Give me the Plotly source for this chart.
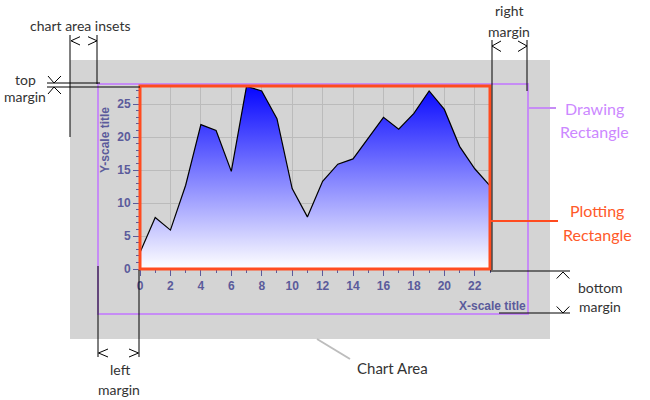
import plotly.graph_objects as go

# ---- data ----
hours = list(range(24))
values = [2.5, 7.8, 5.9, 12.7, 21.9, 21.0, 14.8, 27.7, 27.0, 22.8, 12.2, 7.9,
          13.3, 15.9, 16.7, 19.8, 23.0, 21.2, 23.6, 27.0, 24.2, 18.6, 15.2, 12.6]
x_tick_vals = list(range(0, 24, 2))
y_tick_vals = [0, 5, 10, 15, 20, 25]

W, H = 650, 400


def X(px):
    return px / W


def Y(py):
    return 1 - py / H


TICK_COL = "#5b5b9b"
NOTE_FONT = "Comic Sans MS, Lato, sans-serif"

fig = go.Figure()
fig.add_trace(go.Scatter(
    x=hours, y=values, mode="lines",
    line=dict(color="black", width=1.2),
    fill="tozeroy",
    fillgradient=dict(type="vertical", start=0, stop=27.7,
                      colorscale=[[0, "#ffffff"], [1, "#0606ff"]]),
    hoverinfo="skip", showlegend=False,
))

shapes = []
# chart area
shapes.append(dict(type="rect", xref="paper", yref="paper", x0=X(70), x1=X(550),
                   y0=Y(339), y1=Y(60), fillcolor="#d4d4d4", line=dict(width=0),
                   layer="below"))
# drawing rectangle
shapes.append(dict(type="rect", xref="paper", yref="paper", x0=X(98), x1=X(528),
                   y0=Y(314), y1=Y(84), line=dict(color="#c68cf5", width=2),
                   layer="above"))
# plotting rectangle
shapes.append(dict(type="rect", xref="x domain", yref="y domain", x0=0, x1=1,
                   y0=0, y1=1, line=dict(color="#ff4b1f", width=3), layer="above"))


def line(x0, y0, x1, y1, color="black", width=1):
    shapes.append(dict(type="line", xref="paper", yref="paper", x0=X(x0), y0=Y(y0),
                       x1=X(x1), y1=Y(y1), line=dict(color=color, width=width),
                       layer="above"))


def chevron(pts, color="black", width=1):
    p = "M " + " L ".join(f"{X(a)},{Y(b)}" for a, b in pts)
    shapes.append(dict(type="path", xref="paper", yref="paper", path=p,
                       line=dict(color=color, width=width), layer="above"))


# dimension lines
line(70, 35, 70, 137)
line(97, 35, 97, 84)
line(47, 83, 100, 83)
line(47, 87, 140, 87)
line(492, 40, 492, 270)
line(527, 40, 527, 91)
line(490, 271, 570, 271)
line(499, 313, 570, 313)
line(98, 266, 98, 357)
line(139, 270, 139, 357)
# arrows
chevron([(80, 36.7), (71, 40.8), (80, 45)])
chevron([(88, 36.7), (97, 40.8), (88, 45)])
chevron([(48, 76), (54, 83), (61, 76)])
chevron([(48, 94), (54, 87), (61, 94)])
chevron([(501, 41), (492, 46), (501, 51.5)])
chevron([(518, 41), (527, 46), (518, 51.5)])
chevron([(556.7, 278.5), (563, 272), (569.3, 278.5)])
chevron([(556.7, 306.5), (563, 313), (569.3, 306.5)])
chevron([(108, 349), (98.5, 353), (108, 357)])
chevron([(129, 349), (138.5, 353), (129, 357)])
# pointers
line(317, 339, 350, 359, color="#bdbdbd", width=2)
line(528, 108, 556, 108, color="#c68cf5", width=2)
line(490, 221, 558, 221, color="#ff4b1f", width=2)

annotations = []


def note(text, x, y, color="#333333", size=14, family=NOTE_FONT, bold=False, angle=0):
    annotations.append(dict(text=text, x=X(x), y=Y(y), xref="paper", yref="paper",
                            showarrow=False, xanchor="center", yanchor="middle",
                            textangle=angle,
                            font=dict(color=color, size=size, family=family,
                                      weight="bold" if bold else "normal")))


note("chart area insets", 80, 25)
note("top", 25, 79)
note("margin", 25, 97)
note("right", 509, 11)
note("margin", 509, 31)
note("Drawing", 594, 108, color="#cc88ff", size=16)
note("Rectangle", 594, 131, color="#cc88ff", size=16)
note("Plotting", 597, 210, color="#ff5a2a", size=16)
note("Rectangle", 597, 234, color="#ff5a2a", size=16)
note("bottom", 600, 287)
note("margin", 600, 306)
note("left", 120, 369)
note("margin", 119, 389)
note("Chart Area", 392, 368, size=15)
note("Y-scale title", 105, 140, color=TICK_COL, size=12,
     family="Liberation Sans, Arial", bold=True, angle=-90)
note("X-scale title", 492, 306, color=TICK_COL, size=12,
     family="Liberation Sans, Arial", bold=True)

tick_font = dict(family="Liberation Sans, Arial", size=12, color=TICK_COL, weight="bold")

fig.update_layout(
    width=W, height=H,
    margin=dict(l=0, r=0, t=0, b=0),
    paper_bgcolor="white",
    plot_bgcolor="white",
    shapes=shapes,
    annotations=annotations,
    hovermode=False,
    xaxis=dict(domain=[X(140), X(490)], range=[0, 23], tickvals=x_tick_vals,
               ticks="outside", ticklen=6, tickcolor=TICK_COL, tickwidth=1,
               minor=dict(dtick=1, ticks="outside", ticklen=3, tickcolor=TICK_COL,
                          showgrid=False),
               showgrid=True, gridcolor="#bbbbbb", gridwidth=1,
               zeroline=False, showline=False, tickfont=tick_font, automargin=False),
    yaxis=dict(domain=[Y(269), Y(86)], range=[0, 27.75], tickvals=y_tick_vals,
               ticks="outside", ticklen=6, tickcolor=TICK_COL, tickwidth=1,
               minor=dict(dtick=1, ticks="outside", ticklen=3, tickcolor=TICK_COL,
                          showgrid=False),
               showgrid=True, gridcolor="#bbbbbb", gridwidth=1,
               zeroline=False, showline=False, tickfont=tick_font, automargin=False),
)

fig.write_html("out.html",
               config={"displayModeBar": False, "staticPlot": True},
               post_script="document.body.style.margin='0';document.body.style.overflow='hidden';")
